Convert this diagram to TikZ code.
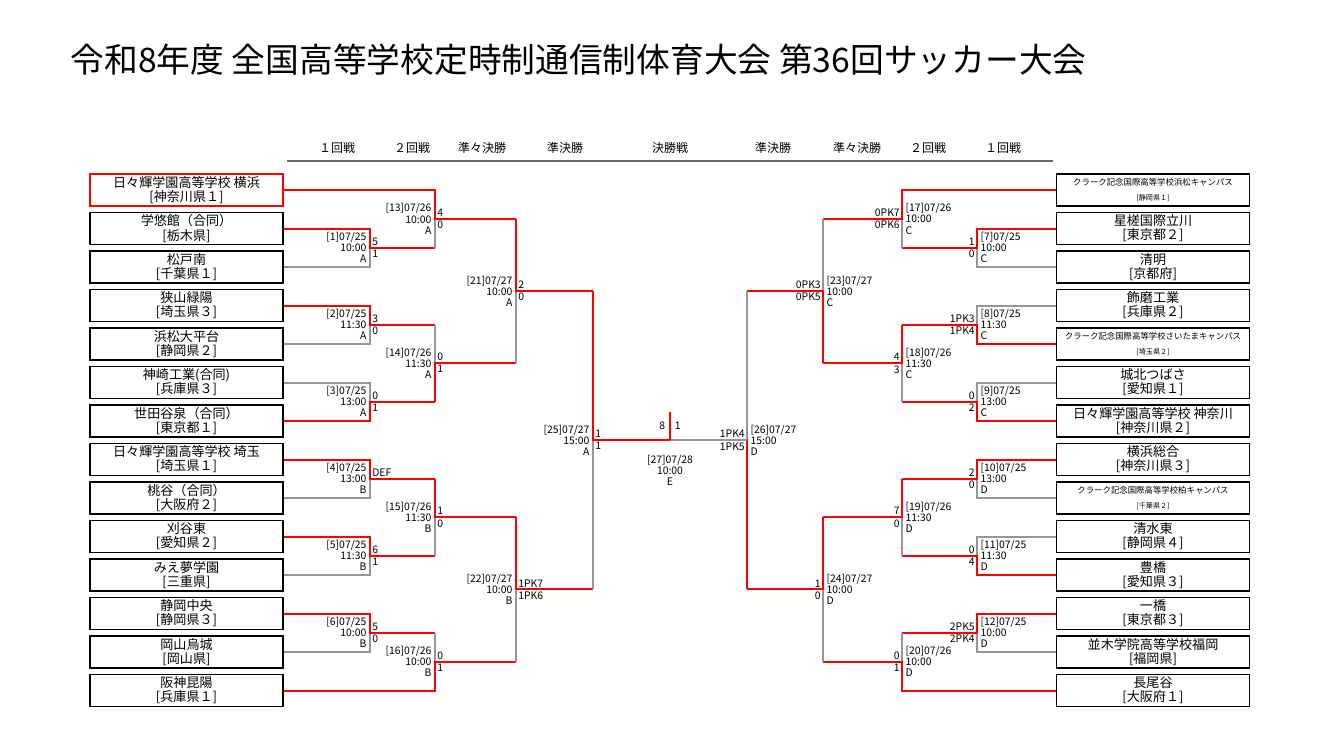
\documentclass[tikz,border=0pt]{standalone}
\usepackage{fontspec}
\setmainfont{Noto Sans CJK JP}
\usetikzlibrary{calc}

\definecolor{winred}{RGB}{255,0,0}
\definecolor{losegray}{RGB}{150,150,150}

\tikzset{
    team/.style={draw, line width=1pt, minimum width=144.75pt, minimum height=24pt,
        inner sep=0pt, align=center, font=\fontsize{9.8}{10.6}\selectfont},
    win/.style={draw=winred, line width=1.5pt},
    lose/.style={draw=losegray, line width=1.5pt},
    date/.style={inner sep=1pt, font=\fontsize{7.8}{8.3}\selectfont},
    score/.style={inner sep=1.5pt, font=\fontsize{7.8}{8}\selectfont},
    head/.style={font=\fontsize{9}{10}\selectfont}
}

\newcommand{\team}[2]{#1\\{}[#2]}
\newcommand{\smallteam}[2]{{\fontsize{6.3}{9}\selectfont #1}\\{}{\fontsize{5.3}{6}\selectfont[#2]}}

% name, top, bottom, x of vertical, x of output, winner (1 top / 2 bottom)
\newcommand{\game}[6]{
    \coordinate (#1t) at (#2 -| #4,0);
    \coordinate (#1b) at (#3 -| #4,0);
    \coordinate (#1v) at ($(#1t)!.5!(#1b)$);
    \coordinate (#1) at (#1v -| #5,0);
    \ifnum#6=1
        \draw[lose] (#3) -- (#1b) -- (#1v);
        \draw[win] (#2) -- (#1t) -- (#1v) -- (#1);
    \else
        \draw[lose] (#2) -- (#1t) -- (#1v);
        \draw[win] (#3) -- (#1b) -- (#1v) -- (#1);
    \fi
}
\newcommand{\infoL}[4]{
    \node[date, anchor=east, align=right] at ([xshift=-1.5pt]#1v) {#2};
    \node[score, anchor=south west] at (#1v) {#3};
    \node[score, anchor=north west] at (#1v) {#4};
}
\newcommand{\infoR}[4]{
    \node[date, anchor=west, align=left] at ([xshift=1.5pt]#1v) {#2};
    \node[score, anchor=south east] at (#1v) {#3};
    \node[score, anchor=north east] at (#1v) {#4};
}

\begin{document}
\begin{tikzpicture}[x=0.75pt, y=-0.75pt]
    \useasboundingbox (0,0) rectangle (1341,732);

    \node[anchor=west, font=\fontsize{25.3}{28}\selectfont] (title) at (66,60)
        {令和8年度 全国高等学校定時制通信制体育大会 第36回サッカー大会};

    % round headers
    \draw[losegray!70!black, line width=0.8pt] (287,161) -- (1053,161);
    \foreach \hx/\htext in {337/１回戦, 412/２回戦, 482/準々決勝, 565/準決勝, 670/決勝戦,
                            773/準決勝, 857/準々決勝, 928/２回戦, 1003/１回戦}
        \node[head] at (\hx,148) {\htext};

    % left teams
    \node[team, draw=winred] (L1) at (186.5,190) {\team{日々輝学園高等学校 横浜}{神奈川県１}};
    \node[team] (L2) at (186.5,228.5) {\team{学悠館（合同）}{栃木県}};
    \node[team] (L3) at (186.5,267) {\team{松戸南}{千葉県１}};
    \node[team] (L4) at (186.5,305.5) {\team{狭山緑陽}{埼玉県３}};
    \node[team] (L5) at (186.5,344) {\team{浜松大平台}{静岡県２}};
    \node[team] (L6) at (186.5,382.5) {\team{神崎工業(合同)}{兵庫県３}};
    \node[team] (L7) at (186.5,421) {\team{世田谷泉（合同）}{東京都１}};
    \node[team] (L8) at (186.5,459.5) {\team{日々輝学園高等学校 埼玉}{埼玉県１}};
    \node[team] (L9) at (186.5,498) {\team{桃谷（合同）}{大阪府２}};
    \node[team] (L10) at (186.5,536.5) {\team{刈谷東}{愛知県２}};
    \node[team] (L11) at (186.5,575) {\team{みえ夢学園}{三重県}};
    \node[team] (L12) at (186.5,613.5) {\team{静岡中央}{静岡県３}};
    \node[team] (L13) at (186.5,652) {\team{岡山烏城}{岡山県}};
    \node[team] (L14) at (186.5,690.5) {\team{阪神昆陽}{兵庫県１}};

    % right teams
    \node[team] (R1) at (1153,190) {\smallteam{クラーク記念国際高等学校浜松キャンパス}{静岡県１}};
    \node[team] (R2) at (1153,228.5) {\team{星槎国際立川}{東京都２}};
    \node[team] (R3) at (1153,267) {\team{清明}{京都府}};
    \node[team] (R4) at (1153,305.5) {\team{飾磨工業}{兵庫県２}};
    \node[team] (R5) at (1153,344) {\smallteam{クラーク記念国際高等学校さいたまキャンパス}{埼玉県２}};
    \node[team] (R6) at (1153,382.5) {\team{城北つばさ}{愛知県１}};
    \node[team] (R7) at (1153,421) {\team{日々輝学園高等学校 神奈川}{神奈川県２}};
    \node[team] (R8) at (1153,459.5) {\team{横浜総合}{神奈川県３}};
    \node[team] (R9) at (1153,498) {\smallteam{クラーク記念国際高等学校柏キャンパス}{千葉県２}};
    \node[team] (R10) at (1153,536.5) {\team{清水東}{静岡県４}};
    \node[team] (R11) at (1153,575) {\team{豊橋}{愛知県３}};
    \node[team] (R12) at (1153,613.5) {\team{一橋}{東京都３}};
    \node[team] (R13) at (1153,652) {\team{並木学院高等学校福岡}{福岡県}};
    \node[team] (R14) at (1153,690.5) {\team{長尾谷}{大阪府１}};

    % left bracket
    \game{g1}{L2}{L3}{370}{435}{1}
    \game{g2}{L4}{L5}{370}{435}{1}
    \game{g3}{L6}{L7}{370}{435}{2}
    \game{g4}{L8}{L9}{370}{435}{1}
    \game{g5}{L10}{L11}{370}{435}{1}
    \game{g6}{L12}{L13}{370}{435}{1}
    \game{g13}{L1}{g1}{435}{516}{1}
    \game{g14}{g2}{g3}{435}{516}{2}
    \game{g15}{g4}{g5}{435}{516}{1}
    \game{g16}{g6}{L14}{435}{516}{2}
    \game{g21}{g13}{g14}{516}{593}{1}
    \game{g22}{g15}{g16}{516}{593}{1}
    \game{g25}{g21}{g22}{593}{670}{1}

    % right bracket
    \game{g7}{R2}{R3}{977}{902}{1}
    \game{g8}{R4}{R5}{977}{902}{2}
    \game{g9}{R6}{R7}{977}{902}{2}
    \game{g10}{R8}{R9}{977}{902}{1}
    \game{g11}{R10}{R11}{977}{902}{2}
    \game{g12}{R12}{R13}{977}{902}{1}
    \game{g17}{R1}{g7}{902}{823}{1}
    \game{g18}{g8}{g9}{902}{823}{1}
    \game{g19}{g10}{g11}{902}{823}{1}
    \game{g20}{g12}{R14}{902}{823}{2}
    \game{g23}{g17}{g18}{823}{747}{2}
    \game{g24}{g19}{g20}{823}{747}{1}
    \game{g26}{g23}{g24}{747}{670}{2}
    \draw[lose] (g26v) -- (g26);

    % final
    \coordinate (champ) at (670,412);
    \draw[win] (g25) -- (champ);
    \node[score, anchor=south east] at ([xshift=-2pt,yshift=6pt]g25) {8};
    \node[score, anchor=south west] at ([xshift=2pt,yshift=6pt]g25) {1};
    \node[date, anchor=north, align=center] at ([yshift=-10pt]g25) {[27]07/28\\10:00\\E};

    % left labels
    \infoL{g1}{[1]07/25\\10:00\\A}{5}{1}
    \infoL{g2}{[2]07/25\\11:30\\A}{3}{0}
    \infoL{g3}{[3]07/25\\13:00\\A}{0}{1}
    \infoL{g4}{[4]07/25\\13:00\\B}{DEF}{}
    \infoL{g5}{[5]07/25\\11:30\\B}{6}{1}
    \infoL{g6}{[6]07/25\\10:00\\B}{5}{0}
    \infoL{g13}{[13]07/26\\10:00\\A}{4}{0}
    \infoL{g14}{[14]07/26\\11:30\\A}{0}{1}
    \infoL{g15}{[15]07/26\\11:30\\B}{1}{0}
    \infoL{g16}{[16]07/26\\10:00\\B}{0}{1}
    \infoL{g21}{[21]07/27\\10:00\\A}{2}{0}
    \infoL{g22}{[22]07/27\\10:00\\B}{1PK7}{1PK6}
    \infoL{g25}{[25]07/27\\15:00\\A}{1}{1}

    % right labels
    \infoR{g7}{[7]07/25\\10:00\\C}{1}{0}
    \infoR{g8}{[8]07/25\\11:30\\C}{1PK3}{1PK4}
    \infoR{g9}{[9]07/25\\13:00\\C}{0}{2}
    \infoR{g10}{[10]07/25\\13:00\\D}{2}{0}
    \infoR{g11}{[11]07/25\\11:30\\D}{0}{4}
    \infoR{g12}{[12]07/25\\10:00\\D}{2PK5}{2PK4}
    \infoR{g17}{[17]07/26\\10:00\\C}{0PK7}{0PK6}
    \infoR{g18}{[18]07/26\\11:30\\C}{4}{3}
    \infoR{g19}{[19]07/26\\11:30\\D}{7}{0}
    \infoR{g20}{[20]07/26\\10:00\\D}{0}{1}
    \infoR{g23}{[23]07/27\\10:00\\C}{0PK3}{0PK5}
    \infoR{g24}{[24]07/27\\10:00\\D}{1}{0}
    \infoR{g26}{[26]07/27\\15:00\\D}{1PK4}{1PK5}
\end{tikzpicture}
\end{document}
